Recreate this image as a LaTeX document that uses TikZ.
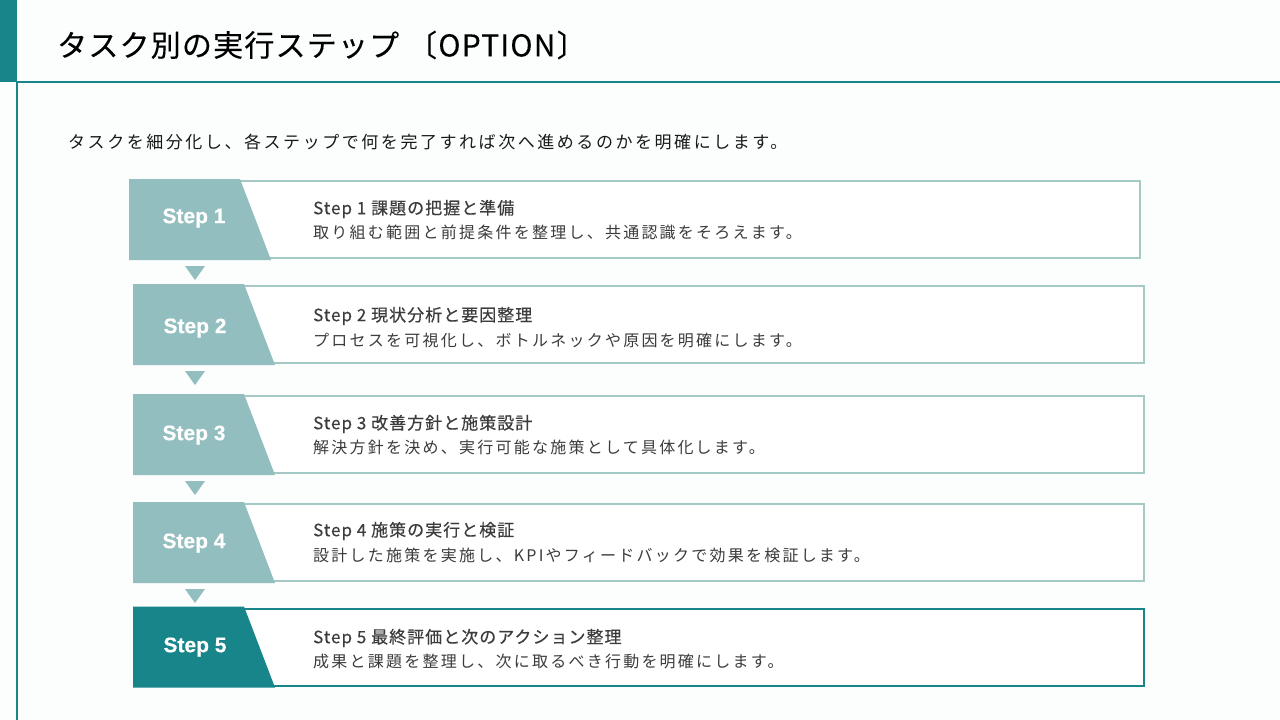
\documentclass[tikz,border=0pt]{standalone}
\usepackage{fontspec}
\setmainfont{Noto Sans CJK JP}
\newfontfamily\jphead[LetterSpace=6,FakeBold=0.35]{Noto Sans CJK JP}
\newfontfamily\jpsp[LetterSpace=14]{Noto Sans CJK JP}
\newfontfamily\jpsub[LetterSpace=15]{Noto Sans CJK JP}
\newfontfamily\jptitle[LetterSpace=4,FakeBold=0.3]{Noto Sans CJK JP}
\newfontfamily\labfont[FakeBold=0.4]{Liberation Sans}
\usetikzlibrary{calc}
\definecolor{teal1}{HTML}{17858A}
\definecolor{lteal}{HTML}{93BEC0}
\definecolor{lborder}{HTML}{A5C9C5}
\definecolor{txt}{HTML}{3C3C3C}
\definecolor{bg}{HTML}{FCFEFD}
\tikzset{
  stepbox/.style={draw=lborder, line width=2pt, fill=white, rectangle, minimum width=1009pt, minimum height=77pt, inner sep=0pt},
  stepboxdark/.style={stepbox, draw=teal1},
  steplab/.style={text=white, font=\labfont\bfseries\fontsize{21pt}{24pt}\selectfont, inner sep=0pt},
  headtxt/.style={anchor=west, inner sep=0pt, text=txt, font=\jphead\fontsize{17pt}{19pt}\selectfont},
  desctxt/.style={anchor=west, inner sep=0pt, text=txt, font=\jpsp\fontsize{16pt}{19pt}\selectfont},
  downtri/.style={fill=lteal},
}
\begin{document}
\begin{tikzpicture}[x=1pt, y=-1pt]
\useasboundingbox (0,0) rectangle (1280,720);
\fill[bg] (0,0) rectangle (1280,720);
% header
\fill[teal1] (0,0) rectangle (17,82);
\draw[teal1, line width=2pt] (17,82) -- (1280,82);
\draw[teal1, line width=2pt] (16.5,82) -- (16.5,720);
\node[anchor=west, inner sep=0pt, font=\jptitle\fontsize{30pt}{33pt}\selectfont] (title) at (57,45) {タスク別の実行ステップ 〔OPTION〕};
\node[anchor=west, inner sep=0pt, text=black!90, font=\jpsub\fontsize{17pt}{20pt}\selectfont] (sub) at (68,142) {タスクを細分化し、各ステップで何を完了すれば次へ進めるのかを明確にします。};

% step boxes
\node[stepbox] (s1) at (635.5,219.5) {};
\node[stepbox] (s2) at (639.5,324.5) {};
\node[stepbox] (s3) at (639.5,434.5) {};
\node[stepbox] (s4) at (639.5,542.5) {};
\node[stepboxdark] (s5) at (639.5,647) {};

% label panels
\foreach \s/\c in {s1/lteal,s2/lteal,s3/lteal,s4/lteal,s5/teal1}{
  \fill[\c] ([xshift=-1pt,yshift=1pt]\s.north west) -- ([xshift=110pt,yshift=1pt]\s.north west)
    -- ([xshift=141pt,yshift=-1pt]\s.south west) -- ([xshift=-1pt,yshift=-1pt]\s.south west) -- cycle;
}

\node[steplab] (l1) at (194,218) {Step 1};
\node[steplab] (l2) at (195,328) {Step 2};
\node[steplab] (l3) at (194,435) {Step 3};
\node[steplab] (l4) at (194,543) {Step 4};
\node[steplab] (l5) at (195,647) {Step 5};

% connectors (down triangles)
\foreach \a in {s1,s2,s3,s4}{
  \coordinate (tmp) at ([yshift=-7pt]\a.south west);
  \fill[downtri] (tmp -| 185,0) -- (tmp -| 205,0) -- ($(tmp -| 195,0)+(0,14)$) -- cycle;
}

% texts
\node[headtxt] (h1) at (313,209) {Step 1 課題の把握と準備};
\node[desctxt] (d1) at (313,232) {取り組む範囲と前提条件を整理し、共通認識をそろえます。};
\node[headtxt] (h2) at (313,316) {Step 2 現状分析と要因整理};
\node[desctxt] (d2) at (313,340) {プロセスを可視化し、ボトルネックや原因を明確にします。};
\node[headtxt] (h3) at (313,424) {Step 3 改善方針と施策設計};
\node[desctxt] (d3) at (313,447) {解決方針を決め、実行可能な施策として具体化します。};
\node[headtxt] (h4) at (313,531) {Step 4 施策の実行と検証};
\node[desctxt] (d4) at (313,555) {設計した施策を実施し、KPIやフィードバックで効果を検証します。};
\node[headtxt] (h5) at (313,638) {Step 5 最終評価と次のアクション整理};
\node[desctxt] (d5) at (313,661) {成果と課題を整理し、次に取るべき行動を明確にします。};
\end{tikzpicture}
\end{document}
